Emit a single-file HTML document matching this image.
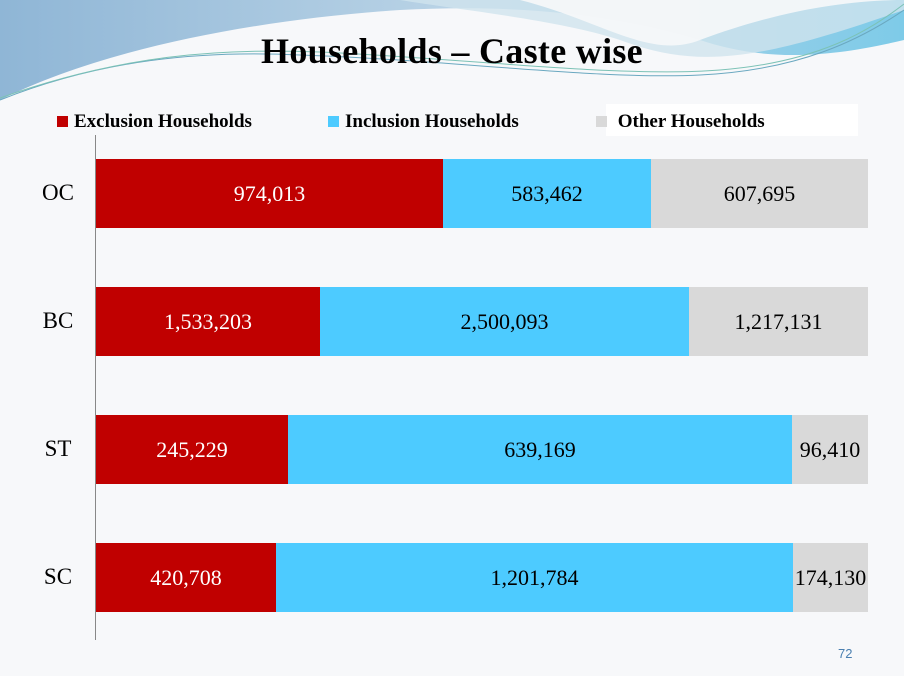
<!DOCTYPE html>
<html><head><meta charset="utf-8"><style>
body{margin:0;width:904px;height:676px;overflow:hidden;background:#f7f8fa;font-family:"Liberation Serif",serif;position:relative}
.a{position:absolute}
.bar{position:absolute;height:69px;display:flex;align-items:center;justify-content:center;font-size:22px}
.r{background:#c00000;color:#fff}.b{background:#4dcbff;color:#000}.g{background:#d9d9d9;color:#000}
.lab{position:absolute;left:30px;font-size:23px;width:56px;text-align:center}
.leg{position:absolute;top:111px;font-size:19px;font-weight:bold}
.sw{display:inline-block;width:11px;height:11px;margin-right:6px}
</style></head><body>
<svg class="a" style="left:0;top:0" width="904" height="140">
<defs><linearGradient id="g1" x1="0" x2="1"><stop offset="0" stop-color="#8fb6d6"/><stop offset=".5" stop-color="#b9d3e6"/><stop offset="1" stop-color="#7ecbe8"/></linearGradient></defs>
<path d="M0 0H904V40C820 60 760 60 700 40 C600 10 500 5 400 10 C250 20 100 50 0 100Z" fill="url(#g1)"/>
<path d="M400 0 C460 10 560 20 620 40 C700 70 760 60 904 10 V0Z" fill="#cfe3ee" opacity=".8"/>
<path d="M520 0 C600 20 650 60 700 40 C780 10 850 0 904 0Z" fill="#f7f8fa" opacity=".9"/>
<path d="M0 100 C100 60 200 50 300 55 C450 60 600 80 700 75 C800 70 860 40 904 10" stroke="#6aa8c0" fill="none" stroke-width="1"/>
<path d="M0 98 C120 55 220 48 320 52 C460 58 620 78 720 70 C820 62 870 30 904 4" stroke="#7cc2b6" fill="none" stroke-width="1"/>
</svg>
<div class="a" style="left:0;top:30px;width:904px;text-align:center;font-size:36px;font-weight:bold;letter-spacing:0.3px">Households – Caste wise</div>
<div class="a" style="left:606px;top:104px;width:252px;height:32px;background:#fff"></div>
<div class="leg" style="left:57px"><span class="sw" style="background:#c00000"></span>Exclusion Households</div>
<div class="leg" style="left:328px"><span class="sw" style="background:#4dcbff"></span>Inclusion Households</div>
<div class="leg" style="left:596px"><span class="sw" style="background:#d9d9d9"></span>&nbsp;Other Households</div>
<div class="a" style="left:95px;top:135px;width:1px;height:505px;background:#888"></div>
<div class="lab" style="top:180px">OC</div>
<div class="lab" style="top:308px">BC</div>
<div class="lab" style="top:436px">ST</div>
<div class="lab" style="top:564px">SC</div>
<div class="bar r" style="left:96px;top:159px;width:347px">974,013</div>
<div class="bar b" style="left:443px;top:159px;width:208px">583,462</div>
<div class="bar g" style="left:651px;top:159px;width:217px">607,695</div>
<div class="bar r" style="left:96px;top:287px;width:224px">1,533,203</div>
<div class="bar b" style="left:320px;top:287px;width:369px">2,500,093</div>
<div class="bar g" style="left:689px;top:287px;width:179px">1,217,131</div>
<div class="bar r" style="left:96px;top:415px;width:192px">245,229</div>
<div class="bar b" style="left:288px;top:415px;width:504px">639,169</div>
<div class="bar g" style="left:792px;top:415px;width:76px">96,410</div>
<div class="bar r" style="left:96px;top:543px;width:180px">420,708</div>
<div class="bar b" style="left:276px;top:543px;width:517px">1,201,784</div>
<div class="bar g" style="left:793px;top:543px;width:75px">174,130</div>
<div class="a" style="left:838px;top:646px;font-family:'Liberation Sans',sans-serif;font-size:13px;color:#4a7fb0">72</div>
</body></html>
